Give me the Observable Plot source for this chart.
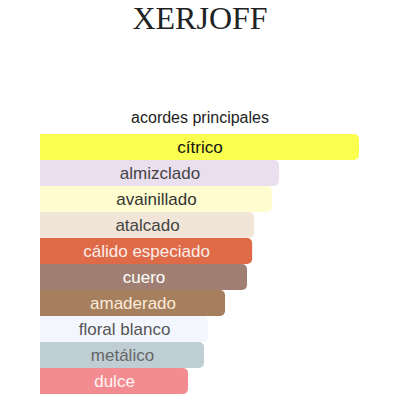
<!DOCTYPE html>
<html>
<head>
<meta charset="utf-8">
<script src="https://cdn.jsdelivr.net/npm/d3@7"></script>
<script src="https://cdn.jsdelivr.net/npm/@observablehq/plot@0.6"></script>
<style>
  html, body { margin: 0; padding: 0; background: #fff; }
  #chart { width: 400px; height: 400px; }
</style>
</head>
<body>
<div id="chart"></div>
<script>
const brand = "XERJOFF";
const title = "acordes principales";
const accords = ["cítrico", "almizclado", "avainillado", "atalcado", "cálido especiado", "cuero", "amaderado", "floral blanco", "metálico", "dulce"];
const strengths = [100, 74.9, 72.7, 67.1, 66.5, 64.9, 58.0, 52.7, 51.4, 46.4];
const barColors = ["#F9FE4F", "#E9DFEE", "#FFFDCF", "#F1E5D8", "#DF6A48", "#A07F72", "#A57F5E", "#F4F6FE", "#BFCED4", "#F38C91"];
const textColors = ["#111111", "#444444", "#333333", "#444444", "#FBEDE8", "#FFFFFF", "#FDEBD8", "#555555", "#666666", "#FFF5F5"];

const data = accords.map((a, i) => ({accord: a, value: strengths[i], fill: barColors[i], color: textColors[i]}));

const chart = Plot.plot({
  width: 400,
  height: 400,
  marginTop: 134,
  marginBottom: 6,
  marginLeft: 40,
  marginRight: 41,
  style: {fontFamily: "'Liberation Sans', Arial, sans-serif", background: "#fff"},
  x: {domain: [0, 100], axis: null},
  y: {domain: accords, padding: 0, axis: null},
  marks: [
    Plot.barX(data, {x: "value", y: "accord", fill: "fill", rx: 5}),
    Plot.barX(data, {x1: 0, x2: d => d.value / 2, y: "accord", fill: "fill"}),
    Plot.text(data, {x: d => d.value / 2, y: "accord", text: "accord", fill: "color", fontSize: 17}),
    Plot.text([brand], {frameAnchor: "top", text: d => d, lineAnchor: "bottom", dy: -106, fontSize: 32, fill: "#222", fontFamily: "'Liberation Serif', 'DejaVu Serif', serif"}),
    Plot.text([title], {frameAnchor: "top", text: d => d, lineAnchor: "bottom", dy: -12, fontSize: 16, fill: "#222"})
  ]
});
document.getElementById("chart").appendChild(chart);
</script>
</body>
</html>
